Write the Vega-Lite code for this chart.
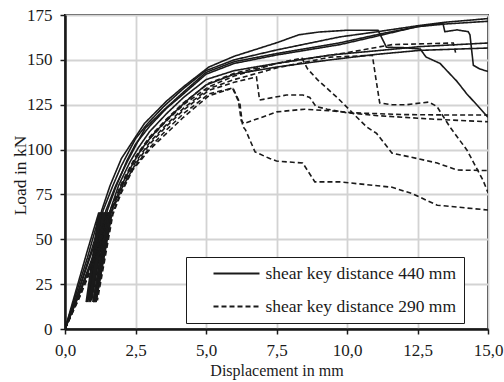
{
  "$schema": "https://vega.github.io/schema/vega-lite/v6.json",
  "autosize": "none",
  "width": 423,
  "height": 314,
  "padding": {"left": 65, "top": 15, "right": 16, "bottom": 53},
  "background": "white",
  "config": {
    "font": "Liberation Serif",
    "view": {"stroke": "#1a1a1a", "strokeWidth": 2},
    "axis": {
      "domainColor": "#1a1a1a",
      "domainWidth": 2.5,
      "gridColor": "#d3d3d3",
      "gridWidth": 1.8,
      "tickColor": "#1a1a1a",
      "tickSize": 5,
      "tickWidth": 1.5,
      "labelFont": "Liberation Serif",
      "labelFontSize": 17,
      "labelColor": "#1a1a1a",
      "titleFont": "Liberation Serif",
      "titleFontSize": 16,
      "titleFontWeight": "normal",
      "titleColor": "#1a1a1a"
    }
  },
  "data": {
    "values": [
      {"s":"S1","g":"440","i":0,"x":0,"y":0},{"s":"S1","g":"440","i":1,"x":0.4,"y":20},{"s":"S1","g":"440","i":2,"x":0.8,"y":40},{"s":"S1","g":"440","i":3,"x":1.25,"y":65},{"s":"S1","g":"440","i":4,"x":0.8,"y":15},{"s":"S1","g":"440","i":5,"x":1.3,"y":65},{"s":"S1","g":"440","i":6,"x":0.85,"y":16},{"s":"S1","g":"440","i":7,"x":1.35,"y":66},{"s":"S1","g":"440","i":8,"x":1.7,"y":80},{"s":"S1","g":"440","i":9,"x":2.0,"y":91},{"s":"S1","g":"440","i":10,"x":2.5,"y":106},{"s":"S1","g":"440","i":11,"x":2.9,"y":114},{"s":"S1","g":"440","i":12,"x":3.5,"y":124},{"s":"S1","g":"440","i":13,"x":4.2,"y":134},{"s":"S1","g":"440","i":14,"x":5.0,"y":144},{"s":"S1","g":"440","i":15,"x":6.0,"y":150},{"s":"S1","g":"440","i":16,"x":7.5,"y":155.5},{"s":"S1","g":"440","i":17,"x":9.75,"y":162.8},{"s":"S1","g":"440","i":18,"x":11,"y":165.5},{"s":"S1","g":"440","i":19,"x":12.5,"y":169},{"s":"S1","g":"440","i":20,"x":13.5,"y":171},{"s":"S1","g":"440","i":21,"x":15,"y":173},

      {"s":"S2","g":"440","i":0,"x":0,"y":0},{"s":"S2","g":"440","i":1,"x":0.5,"y":22},{"s":"S2","g":"440","i":2,"x":1.0,"y":45},{"s":"S2","g":"440","i":3,"x":1.4,"y":65},{"s":"S2","g":"440","i":4,"x":0.9,"y":15},{"s":"S2","g":"440","i":5,"x":1.45,"y":65},{"s":"S2","g":"440","i":6,"x":0.95,"y":16},{"s":"S2","g":"440","i":7,"x":1.5,"y":66},{"s":"S2","g":"440","i":8,"x":1.8,"y":79},{"s":"S2","g":"440","i":9,"x":2.2,"y":94},{"s":"S2","g":"440","i":10,"x":2.5,"y":103},{"s":"S2","g":"440","i":11,"x":3.0,"y":113},{"s":"S2","g":"440","i":12,"x":3.6,"y":123},{"s":"S2","g":"440","i":13,"x":4.2,"y":131},{"s":"S2","g":"440","i":14,"x":5.0,"y":142},{"s":"S2","g":"440","i":15,"x":6.0,"y":148},{"s":"S2","g":"440","i":16,"x":7.5,"y":152.7},{"s":"S2","g":"440","i":17,"x":9.75,"y":158.5},{"s":"S2","g":"440","i":18,"x":11,"y":163},{"s":"S2","g":"440","i":19,"x":12.5,"y":168.5},{"s":"S2","g":"440","i":20,"x":13.5,"y":170},{"s":"S2","g":"440","i":21,"x":15,"y":171.5},

      {"s":"S3","g":"440","i":0,"x":0,"y":0},{"s":"S3","g":"440","i":1,"x":0.45,"y":20},{"s":"S3","g":"440","i":2,"x":0.9,"y":42},{"s":"S3","g":"440","i":3,"x":1.35,"y":65},{"s":"S3","g":"440","i":4,"x":0.85,"y":15},{"s":"S3","g":"440","i":5,"x":1.4,"y":65},{"s":"S3","g":"440","i":6,"x":0.9,"y":16},{"s":"S3","g":"440","i":7,"x":1.45,"y":66},{"s":"S3","g":"440","i":8,"x":1.8,"y":80},{"s":"S3","g":"440","i":9,"x":2.2,"y":93},{"s":"S3","g":"440","i":10,"x":2.6,"y":105},{"s":"S3","g":"440","i":11,"x":2.85,"y":112},{"s":"S3","g":"440","i":12,"x":3.5,"y":122},{"s":"S3","g":"440","i":13,"x":4.2,"y":132},{"s":"S3","g":"440","i":14,"x":5.0,"y":143},{"s":"S3","g":"440","i":15,"x":6.0,"y":149},{"s":"S3","g":"440","i":16,"x":7.5,"y":153.5},{"s":"S3","g":"440","i":17,"x":9.75,"y":159.5},{"s":"S3","g":"440","i":18,"x":11.2,"y":164.5},{"s":"S3","g":"440","i":19,"x":12.5,"y":168.5},{"s":"S3","g":"440","i":20,"x":13.4,"y":170.4},{"s":"S3","g":"440","i":21,"x":13.47,"y":165.7},{"s":"S3","g":"440","i":22,"x":13.9,"y":166.7},{"s":"S3","g":"440","i":23,"x":14.3,"y":165.7},{"s":"S3","g":"440","i":24,"x":14.36,"y":164},{"s":"S3","g":"440","i":25,"x":14.48,"y":147},{"s":"S3","g":"440","i":26,"x":14.7,"y":145},{"s":"S3","g":"440","i":27,"x":15,"y":143.5},

      {"s":"S4","g":"440","i":0,"x":0,"y":0},{"s":"S4","g":"440","i":1,"x":0.4,"y":22},{"s":"S4","g":"440","i":2,"x":0.8,"y":44},{"s":"S4","g":"440","i":3,"x":1.2,"y":65},{"s":"S4","g":"440","i":4,"x":0.75,"y":15},{"s":"S4","g":"440","i":5,"x":1.25,"y":65},{"s":"S4","g":"440","i":6,"x":0.78,"y":16},{"s":"S4","g":"440","i":7,"x":1.3,"y":66},{"s":"S4","g":"440","i":8,"x":1.6,"y":80},{"s":"S4","g":"440","i":9,"x":2.0,"y":95},{"s":"S4","g":"440","i":10,"x":2.5,"y":107},{"s":"S4","g":"440","i":11,"x":2.82,"y":114.6},{"s":"S4","g":"440","i":12,"x":3.6,"y":127},{"s":"S4","g":"440","i":13,"x":4.2,"y":135},{"s":"S4","g":"440","i":14,"x":5.1,"y":146},{"s":"S4","g":"440","i":15,"x":6.0,"y":152},{"s":"S4","g":"440","i":16,"x":7.5,"y":159.5},{"s":"S4","g":"440","i":17,"x":8.3,"y":164},{"s":"S4","g":"440","i":18,"x":9.0,"y":165.5},{"s":"S4","g":"440","i":19,"x":10,"y":166.5},{"s":"S4","g":"440","i":20,"x":11.1,"y":166.5},{"s":"S4","g":"440","i":21,"x":11.4,"y":157},{"s":"S4","g":"440","i":22,"x":12.0,"y":156.8},{"s":"S4","g":"440","i":23,"x":12.6,"y":156},{"s":"S4","g":"440","i":24,"x":12.8,"y":151.6},{"s":"S4","g":"440","i":25,"x":13.3,"y":148},{"s":"S4","g":"440","i":26,"x":13.9,"y":138},{"s":"S4","g":"440","i":27,"x":14.25,"y":131},{"s":"S4","g":"440","i":28,"x":14.6,"y":125},{"s":"S4","g":"440","i":29,"x":15,"y":118},

      {"s":"S5","g":"440","i":0,"x":0,"y":0},{"s":"S5","g":"440","i":1,"x":0.5,"y":20},{"s":"S5","g":"440","i":2,"x":1.0,"y":41},{"s":"S5","g":"440","i":3,"x":1.5,"y":65},{"s":"S5","g":"440","i":4,"x":1.0,"y":15},{"s":"S5","g":"440","i":5,"x":1.55,"y":65},{"s":"S5","g":"440","i":6,"x":1.05,"y":16},{"s":"S5","g":"440","i":7,"x":1.6,"y":66},{"s":"S5","g":"440","i":8,"x":1.9,"y":80},{"s":"S5","g":"440","i":9,"x":2.3,"y":93},{"s":"S5","g":"440","i":10,"x":2.6,"y":101},{"s":"S5","g":"440","i":11,"x":3.0,"y":110},{"s":"S5","g":"440","i":12,"x":3.6,"y":120},{"s":"S5","g":"440","i":13,"x":4.2,"y":129},{"s":"S5","g":"440","i":14,"x":5.0,"y":139},{"s":"S5","g":"440","i":15,"x":6.0,"y":144},{"s":"S5","g":"440","i":16,"x":7.5,"y":148},{"s":"S5","g":"440","i":17,"x":9.4,"y":152.7},{"s":"S5","g":"440","i":18,"x":11,"y":155},{"s":"S5","g":"440","i":19,"x":12.6,"y":157.4},{"s":"S5","g":"440","i":20,"x":15,"y":159.4},

      {"s":"S6","g":"440","i":0,"x":0,"y":0},{"s":"S6","g":"440","i":1,"x":0.5,"y":19},{"s":"S6","g":"440","i":2,"x":1.0,"y":39},{"s":"S6","g":"440","i":3,"x":1.55,"y":65},{"s":"S6","g":"440","i":4,"x":1.05,"y":15},{"s":"S6","g":"440","i":5,"x":1.6,"y":65},{"s":"S6","g":"440","i":6,"x":1.1,"y":16},{"s":"S6","g":"440","i":7,"x":1.65,"y":66},{"s":"S6","g":"440","i":8,"x":2.0,"y":80},{"s":"S6","g":"440","i":9,"x":2.4,"y":92},{"s":"S6","g":"440","i":10,"x":2.7,"y":100},{"s":"S6","g":"440","i":11,"x":3.1,"y":108},{"s":"S6","g":"440","i":12,"x":3.7,"y":118},{"s":"S6","g":"440","i":13,"x":4.3,"y":127},{"s":"S6","g":"440","i":14,"x":5.0,"y":136},{"s":"S6","g":"440","i":15,"x":6.0,"y":142},{"s":"S6","g":"440","i":16,"x":7.5,"y":146},{"s":"S6","g":"440","i":17,"x":9.4,"y":150},{"s":"S6","g":"440","i":18,"x":11,"y":153},{"s":"S6","g":"440","i":19,"x":12.6,"y":155.3},{"s":"S6","g":"440","i":20,"x":15,"y":156.6},

      {"s":"Da","g":"290","i":0,"x":0,"y":0},{"s":"Da","g":"290","i":1,"x":0.5,"y":17},{"s":"Da","g":"290","i":2,"x":1.0,"y":36},{"s":"Da","g":"290","i":3,"x":1.6,"y":62},{"s":"Da","g":"290","i":4,"x":1.1,"y":15},{"s":"Da","g":"290","i":5,"x":1.65,"y":63},{"s":"Da","g":"290","i":6,"x":1.15,"y":16},{"s":"Da","g":"290","i":7,"x":1.7,"y":64},{"s":"Da","g":"290","i":8,"x":2.0,"y":76},{"s":"Da","g":"290","i":9,"x":2.4,"y":88.6},{"s":"Da","g":"290","i":10,"x":3.0,"y":100},{"s":"Da","g":"290","i":11,"x":3.6,"y":109},{"s":"Da","g":"290","i":12,"x":4.2,"y":118},{"s":"Da","g":"290","i":13,"x":5.1,"y":130},{"s":"Da","g":"290","i":14,"x":5.6,"y":132.5},{"s":"Da","g":"290","i":15,"x":5.95,"y":134.5},{"s":"Da","g":"290","i":16,"x":6.2,"y":126},{"s":"Da","g":"290","i":17,"x":6.3,"y":113},{"s":"Da","g":"290","i":18,"x":6.4,"y":111},{"s":"Da","g":"290","i":19,"x":6.74,"y":98.7},{"s":"Da","g":"290","i":20,"x":7.26,"y":95},{"s":"Da","g":"290","i":21,"x":7.5,"y":93.6},{"s":"Da","g":"290","i":22,"x":8.43,"y":92.5},{"s":"Da","g":"290","i":23,"x":8.86,"y":82},{"s":"Da","g":"290","i":24,"x":9.74,"y":82},{"s":"Da","g":"290","i":25,"x":11.6,"y":79},{"s":"Da","g":"290","i":26,"x":12.3,"y":75.5},{"s":"Da","g":"290","i":27,"x":13.2,"y":69},{"s":"Da","g":"290","i":28,"x":15,"y":66.3},

      {"s":"De","g":"290","i":0,"x":0,"y":0},{"s":"De","g":"290","i":1,"x":0.5,"y":18},{"s":"De","g":"290","i":2,"x":1.0,"y":37},{"s":"De","g":"290","i":3,"x":1.6,"y":63},{"s":"De","g":"290","i":4,"x":1.1,"y":15},{"s":"De","g":"290","i":5,"x":1.65,"y":63},{"s":"De","g":"290","i":6,"x":2.0,"y":77},{"s":"De","g":"290","i":7,"x":2.4,"y":89},{"s":"De","g":"290","i":8,"x":3.0,"y":101},{"s":"De","g":"290","i":9,"x":3.6,"y":111},{"s":"De","g":"290","i":10,"x":4.2,"y":120},{"s":"De","g":"290","i":11,"x":5.1,"y":131},{"s":"De","g":"290","i":12,"x":5.6,"y":133},{"s":"De","g":"290","i":13,"x":5.95,"y":134},{"s":"De","g":"290","i":14,"x":6.15,"y":127},{"s":"De","g":"290","i":15,"x":6.25,"y":116},{"s":"De","g":"290","i":16,"x":6.35,"y":114.5},{"s":"De","g":"290","i":17,"x":6.8,"y":117},{"s":"De","g":"290","i":18,"x":7.5,"y":121},{"s":"De","g":"290","i":19,"x":8.5,"y":122.5},{"s":"De","g":"290","i":20,"x":9.5,"y":121.5},{"s":"De","g":"290","i":21,"x":10.2,"y":120.5},{"s":"De","g":"290","i":22,"x":12,"y":119.5},{"s":"De","g":"290","i":23,"x":13.5,"y":119.3},{"s":"De","g":"290","i":24,"x":15,"y":119.3},

      {"s":"Dd","g":"290","i":0,"x":0,"y":0},{"s":"Dd","g":"290","i":1,"x":0.5,"y":18},{"s":"Dd","g":"290","i":2,"x":1.0,"y":38},{"s":"Dd","g":"290","i":3,"x":1.55,"y":62},{"s":"Dd","g":"290","i":4,"x":1.05,"y":15},{"s":"Dd","g":"290","i":5,"x":1.6,"y":63},{"s":"Dd","g":"290","i":6,"x":2.0,"y":78},{"s":"Dd","g":"290","i":7,"x":2.5,"y":92},{"s":"Dd","g":"290","i":8,"x":3.0,"y":103},{"s":"Dd","g":"290","i":9,"x":3.6,"y":113},{"s":"Dd","g":"290","i":10,"x":4.2,"y":122},{"s":"Dd","g":"290","i":11,"x":5.1,"y":133},{"s":"Dd","g":"290","i":12,"x":6.0,"y":137.5},{"s":"Dd","g":"290","i":13,"x":6.79,"y":140.5},{"s":"Dd","g":"290","i":14,"x":6.9,"y":127.6},{"s":"Dd","g":"290","i":15,"x":7.85,"y":130.4},{"s":"Dd","g":"290","i":16,"x":8.44,"y":130.4},{"s":"Dd","g":"290","i":17,"x":8.68,"y":129},{"s":"Dd","g":"290","i":18,"x":8.9,"y":124},{"s":"Dd","g":"290","i":19,"x":9.3,"y":122.5},{"s":"Dd","g":"290","i":20,"x":10,"y":120.5},{"s":"Dd","g":"290","i":21,"x":11,"y":119},{"s":"Dd","g":"290","i":22,"x":13,"y":117},{"s":"Dd","g":"290","i":23,"x":15,"y":115.5},

      {"s":"Db","g":"290","i":0,"x":0,"y":0},{"s":"Db","g":"290","i":1,"x":0.5,"y":19},{"s":"Db","g":"290","i":2,"x":1.0,"y":40},{"s":"Db","g":"290","i":3,"x":1.5,"y":63},{"s":"Db","g":"290","i":4,"x":1.0,"y":15},{"s":"Db","g":"290","i":5,"x":1.55,"y":64},{"s":"Db","g":"290","i":6,"x":2.0,"y":80},{"s":"Db","g":"290","i":7,"x":2.5,"y":95},{"s":"Db","g":"290","i":8,"x":3.0,"y":106},{"s":"Db","g":"290","i":9,"x":3.6,"y":116},{"s":"Db","g":"290","i":10,"x":4.2,"y":125},{"s":"Db","g":"290","i":11,"x":5.1,"y":135},{"s":"Db","g":"290","i":12,"x":6.0,"y":141},{"s":"Db","g":"290","i":13,"x":7.5,"y":148},{"s":"Db","g":"290","i":14,"x":8.4,"y":151},{"s":"Db","g":"290","i":15,"x":8.6,"y":145},{"s":"Db","g":"290","i":16,"x":8.95,"y":139},{"s":"Db","g":"290","i":17,"x":9.65,"y":129},{"s":"Db","g":"290","i":18,"x":10.1,"y":122},{"s":"Db","g":"290","i":19,"x":10.35,"y":118},{"s":"Db","g":"290","i":20,"x":10.7,"y":112.6},{"s":"Db","g":"290","i":21,"x":11.05,"y":109},{"s":"Db","g":"290","i":22,"x":11.6,"y":98},{"s":"Db","g":"290","i":23,"x":12.2,"y":96},{"s":"Db","g":"290","i":24,"x":13.2,"y":92.5},{"s":"Db","g":"290","i":25,"x":13.9,"y":88.6},{"s":"Db","g":"290","i":26,"x":15,"y":88.3},

      {"s":"Dc","g":"290","i":0,"x":0,"y":0},{"s":"Dc","g":"290","i":1,"x":0.5,"y":18},{"s":"Dc","g":"290","i":2,"x":1.0,"y":39},{"s":"Dc","g":"290","i":3,"x":1.55,"y":63},{"s":"Dc","g":"290","i":4,"x":1.05,"y":15},{"s":"Dc","g":"290","i":5,"x":1.6,"y":64},{"s":"Dc","g":"290","i":6,"x":2.0,"y":79},{"s":"Dc","g":"290","i":7,"x":2.5,"y":93},{"s":"Dc","g":"290","i":8,"x":3.0,"y":104},{"s":"Dc","g":"290","i":9,"x":3.6,"y":114},{"s":"Dc","g":"290","i":10,"x":4.2,"y":123},{"s":"Dc","g":"290","i":11,"x":5.1,"y":134},{"s":"Dc","g":"290","i":12,"x":6.0,"y":139},{"s":"Dc","g":"290","i":13,"x":7.5,"y":145.5},{"s":"Dc","g":"290","i":14,"x":9.4,"y":151.5},{"s":"Dc","g":"290","i":15,"x":10.9,"y":152.5},{"s":"Dc","g":"290","i":16,"x":11.0,"y":142},{"s":"Dc","g":"290","i":17,"x":11.16,"y":126},{"s":"Dc","g":"290","i":18,"x":11.6,"y":125},{"s":"Dc","g":"290","i":19,"x":12.12,"y":125},{"s":"Dc","g":"290","i":20,"x":12.9,"y":126.5},{"s":"Dc","g":"290","i":21,"x":13.19,"y":124},{"s":"Dc","g":"290","i":22,"x":13.65,"y":112.6},{"s":"Dc","g":"290","i":23,"x":14.25,"y":99.8},{"s":"Dc","g":"290","i":24,"x":14.82,"y":83},{"s":"Dc","g":"290","i":25,"x":15,"y":76},

      {"s":"Df","g":"290","i":0,"x":0,"y":0},{"s":"Df","g":"290","i":1,"x":0.5,"y":19},{"s":"Df","g":"290","i":2,"x":1.0,"y":40},{"s":"Df","g":"290","i":3,"x":1.5,"y":63},{"s":"Df","g":"290","i":4,"x":1.0,"y":15},{"s":"Df","g":"290","i":5,"x":1.55,"y":64},{"s":"Df","g":"290","i":6,"x":2.0,"y":81},{"s":"Df","g":"290","i":7,"x":2.5,"y":96},{"s":"Df","g":"290","i":8,"x":3.0,"y":107},{"s":"Df","g":"290","i":9,"x":3.6,"y":117},{"s":"Df","g":"290","i":10,"x":4.2,"y":126},{"s":"Df","g":"290","i":11,"x":5.1,"y":137},{"s":"Df","g":"290","i":12,"x":6.0,"y":142.5},{"s":"Df","g":"290","i":13,"x":7.5,"y":148},{"s":"Df","g":"290","i":14,"x":10,"y":154},{"s":"Df","g":"290","i":15,"x":11.6,"y":158.5},{"s":"Df","g":"290","i":16,"x":13.77,"y":159.4},{"s":"Df","g":"290","i":17,"x":13.85,"y":154}
    ]
  },
  "mark": {"type": "line", "color": "#1a1a1a", "strokeWidth": 1.6, "clip": true},
  "encoding": {
    "x": {
      "field": "x", "type": "quantitative",
      "scale": {"domain": [0, 15], "nice": false},
      "axis": {
        "values": [0, 2.5, 5, 7.5, 10, 12.5, 15],
        "labelExpr": "replace(format(datum.value, '.1f'), '.', ',')",
        "labelPadding": 8,
        "labelFlush": false,
        "title": "Displacement in mm",
        "titleBaseline": "alphabetic",
        "titleY": 46
      }
    },
    "y": {
      "field": "y", "type": "quantitative",
      "scale": {"domain": [0, 175], "nice": false},
      "axis": {
        "values": [0, 25, 50, 75, 100, 125, 150, 175],
        "labelPadding": 8,
        "labelFlush": false,
        "title": "Load in kN",
        "titleFontSize": 17.5,
        "titleAngle": 270,
        "titleAlign": "center",
        "titleBaseline": "alphabetic",
        "titleX": -40,
        "titleY": 160
      }
    },
    "detail": {"field": "s"},
    "order": {"field": "i"},
    "strokeDash": {
      "field": "g", "type": "nominal",
      "scale": {"domain": ["440", "290"], "range": [[1, 0], [5, 3]]},
      "legend": {
        "title": null,
        "orient": "none",
        "legendX": 121,
        "legendY": 242,
        "padding": 7.5,
        "strokeColor": "#1a1a1a",
        "fillColor": "white",
        "symbolType": "stroke",
        "symbolSize": 2116,
        "symbolStrokeWidth": 2,
        "symbolStrokeColor": "#1a1a1a",
        "symbolOffset": 19,
        "clipHeight": 18,
        "labelOffset": 5,
        "labelLimit": 400,
        "labelFont": "Liberation Serif",
        "labelFontSize": 17.5,
        "labelColor": "#1a1a1a",
        "rowPadding": 15,
        "labelExpr": "'shear key distance ' + datum.label + ' mm\u00a0\u00a0\u00a0\u00a0\u00a0\u00a0\u00a0\u00a0\u00a0\u00a0'"
      }
    }
  }
}
